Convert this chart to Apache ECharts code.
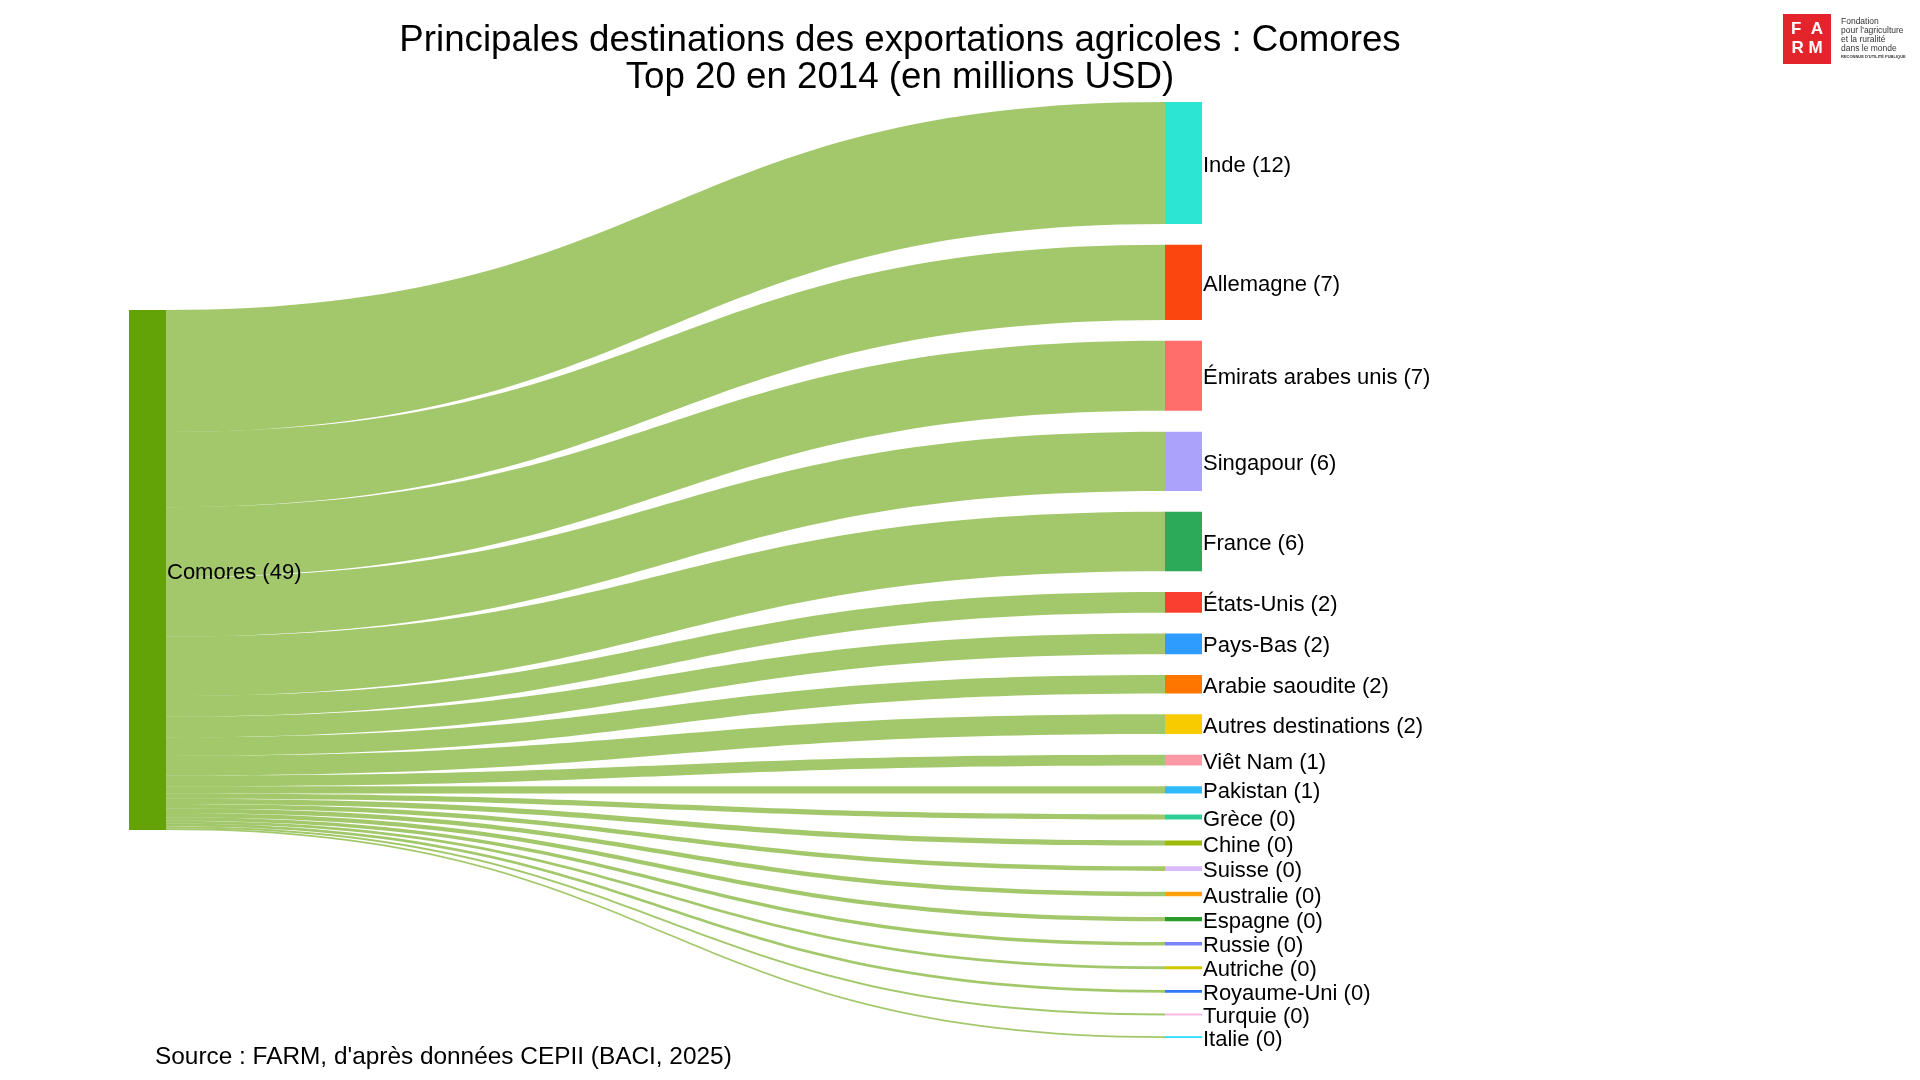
<!DOCTYPE html>
<html>
<head>
<meta charset="utf-8">
<title>Comores - exportations agricoles</title>
<script src="https://cdn.jsdelivr.net/npm/echarts@6/dist/echarts.min.js"></script>
<style>
  html, body { margin: 0; padding: 0; background: #fff; }
  #chart { width: 1920px; height: 1080px; }
</style>
</head>
<body>
<div id="chart"></div>
<script>
// donnees (millions USD, 2014)
var source = 'Comores';
var destinations = ['Inde', 'Allemagne', 'Émirats arabes unis', 'Singapour', 'France',
  'États-Unis', 'Pays-Bas', 'Arabie saoudite', 'Autres destinations', 'Viêt Nam',
  'Pakistan', 'Grèce', 'Chine', 'Suisse', 'Australie', 'Espagne', 'Russie',
  'Autriche', 'Royaume-Uni', 'Turquie', 'Italie'];
var values = [11.5, 7.1, 6.6, 5.6, 5.6,
  1.95, 1.95, 1.75, 1.85, 1.0,
  0.7, 0.49, 0.48, 0.44, 0.42, 0.4, 0.32,
  0.27, 0.26, 0.19, 0.16];

var palette = ['#2ce5d3', '#fb460f', '#ff6e6a', '#aba2fc', '#2caa5a',
  '#fa3f31', '#2e9bfe', '#fe7500', '#f8ca00', '#fe98a6',
  '#30bafe', '#30cf98', '#9db90b', '#dbb9fc', '#fea20c', '#2a9a2a', '#7b84fb',
  '#cfc800', '#3278f6', '#feb9e0', '#25dcf9'];
var sourceColor = '#64a308';

var chart = echarts.init(document.getElementById('chart'));

var layoutTop = 102, layoutBottom = 42, nodeGap = 20.8;
var layoutHeight = chart.getHeight() - layoutTop - layoutBottom;

function fmt(v) {
  return Math.round(v);
}

var nodes = [{
  name: source,
  itemStyle: { color: sourceColor },
  // centrer le noeud source sur la colonne des destinations
  localY: (destinations.length - 1) * nodeGap / 2 / layoutHeight
}];
destinations.forEach(function (d, i) {
  nodes.push({ name: d, itemStyle: { color: palette[i] } });
});

var links = destinations.map(function (d, i) {
  return { source: source, target: d, value: values[i] };
});

var option = {
  backgroundColor: '#ffffff',
  animation: false,
  title: {
    text: 'Principales destinations des exportations agricoles : Comores\nTop 20 en 2014 (en millions USD)',
    left: 900,
    top: 23,
    padding: 0,
    textAlign: 'center',
    textStyle: {
      fontFamily: 'Liberation Sans, Arial, sans-serif',
      fontSize: 36.7,
      fontWeight: 'normal',
      lineHeight: 36.5,
      color: '#000'
    }
  },
  graphic: [
    {
      type: 'text',
      left: 155,
      top: 1045,
      style: {
        text: "Source : FARM, d'après données CEPII (BACI, 2025)",
        font: '24.4px "Liberation Sans", Arial, sans-serif',
        fill: '#000'
      }
    },
    // logo FARM
    {
      type: 'rect',
      shape: { x: 1783, y: 14, width: 48, height: 50 },
      style: { fill: '#e3252b' }
    },
    {
      type: 'text',
      x: 1807, y: 29,
      style: {
        text: 'F  A', align: 'center', verticalAlign: 'middle',
        font: 'bold 17px "Liberation Sans", Arial, sans-serif', fill: '#fff'
      }
    },
    {
      type: 'text',
      x: 1807, y: 48,
      style: {
        text: 'R M', align: 'center', verticalAlign: 'middle',
        font: 'bold 17px "Liberation Sans", Arial, sans-serif', fill: '#fff'
      }
    },
    {
      type: 'text',
      x: 1841, y: 17,
      style: {
        text: "Fondation\npour l'agriculture\net la ruralité\ndans le monde",
        font: '8.5px "Liberation Sans", Arial, sans-serif',
        lineHeight: 9,
        fill: '#333'
      }
    },
    {
      type: 'text',
      x: 1841, y: 55,
      style: {
        text: "RECONNUE D'UTILITÉ PUBLIQUE",
        font: 'bold 4px "Liberation Sans", Arial, sans-serif',
        fill: '#333'
      }
    }
  ],
  series: [{
    type: 'sankey',
    left: 129,
    right: 718,
    top: layoutTop,
    bottom: layoutBottom,
    nodeWidth: 37,
    nodeGap: nodeGap,
    layoutIterations: 0,
    draggable: false,
    emphasis: { disabled: true },
    data: nodes,
    links: links,
    itemStyle: { borderWidth: 0 },
    lineStyle: {
      color: sourceColor,
      opacity: 0.6,
      curveness: 0.5
    },
    label: {
      show: true,
      position: 'right',
      distance: 1,
      offset: [0, 2.5],
      fontFamily: 'Liberation Sans, Arial, sans-serif',
      fontSize: 22,
      color: '#000',
      formatter: function (p) {
        return p.name + ' (' + fmt(p.value) + ')';
      }
    }
  }]
};

chart.setOption(option);
</script>
</body>
</html>
